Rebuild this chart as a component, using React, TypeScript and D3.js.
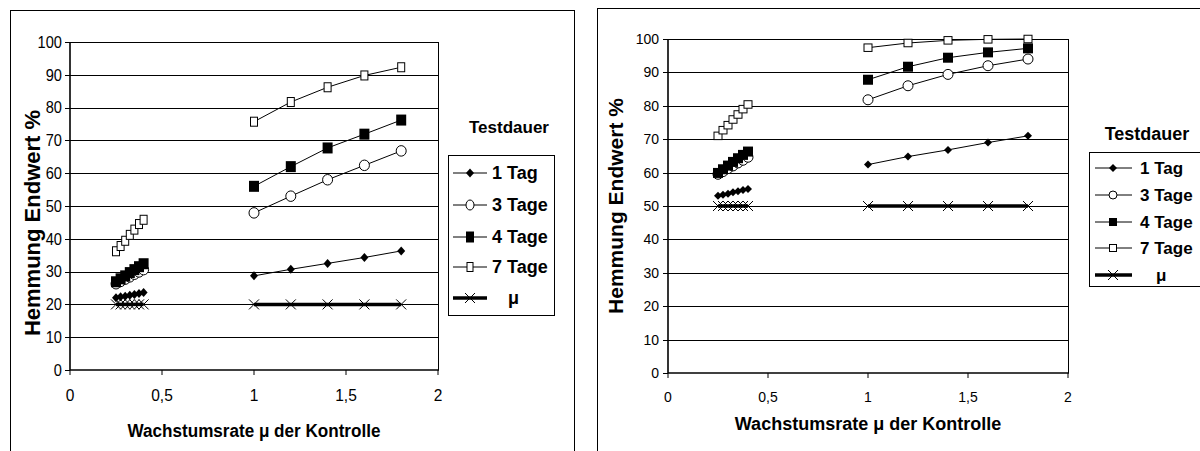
import React from "react";
import * as d3 from "d3";

// ---------- data ----------
const xTicks = [0, 0.5, 1, 1.5, 2];
const xTickLabels = ["0", "0,5", "1", "1,5", "2"];
const yTicks = [0, 10, 20, 30, 40, 50, 60, 70, 80, 90, 100];
const seriesNames = ["1 Tag", "3 Tage", "4 Tage", "7 Tage", "μ"];
const legendTitle = "Testdauer";
const xTitle = "Wachstumsrate μ der Kontrolle";
const yTitle = "Hemmung Endwert %";

const xLow = [0.25, 0.275, 0.3, 0.325, 0.35, 0.375, 0.4];
const xHigh = [1, 1.2, 1.4, 1.6, 1.8];

const leftTag1Low = [22.0, 22.3, 22.5, 22.8, 23.0, 23.3, 23.6];
const leftTage3Low = [26.3, 27.0, 27.7, 28.4, 29.2, 29.9, 30.6];
const leftTage4Low = [26.9, 27.8, 28.7, 29.7, 30.6, 31.5, 32.4];
const leftTage7Low = [36.2, 37.8, 39.4, 41.2, 42.8, 44.5, 45.8];
const leftMuLow = [20, 20, 20, 20, 20, 20, 20];
const leftTag1High = [28.7, 30.7, 32.5, 34.3, 36.3];
const leftTage3High = [47.9, 53.0, 58.0, 62.4, 66.8];
const leftTage4High = [56.0, 62.0, 67.7, 71.9, 76.2];
const leftTage7High = [75.7, 81.7, 86.2, 89.8, 92.3];
const leftMuHigh = [20, 20, 20, 20, 20];

const rightTag1Low = [53.1, 53.4, 53.7, 54.1, 54.4, 54.8, 55.1];
const rightTage3Low = [59.5, 60.3, 61.2, 62.0, 62.9, 63.7, 64.6];
const rightTage4Low = [59.9, 61.0, 62.1, 63.2, 64.3, 65.3, 66.3];
const rightTage7Low = [71.0, 72.7, 74.2, 75.9, 77.4, 79.0, 80.4];
const rightMuLow = [50, 50, 50, 50, 50, 50, 50];
const rightTag1High = [62.4, 64.8, 66.8, 69.0, 71.0];
const rightTage3High = [81.8, 86.0, 89.4, 92.0, 94.0];
const rightTage4High = [87.8, 91.7, 94.4, 96.0, 97.2];
const rightTage7High = [97.4, 98.8, 99.6, 99.9, 100];
const rightMuHigh = [50, 50, 50, 50, 50];

const markerTypes = ["diamond", "circle", "square", "openSquare", "x"];

const FONT = "'Liberation Sans', Arial, Helvetica, sans-serif";

type Sizes = {
  diamond: [number, number];
  circle: [number, number];
  square: [number, number];
  openSquare: [number, number];
  x: [number, number];
};

function Marker({ type, cx, cy, s }: { type: string; cx: number; cy: number; s: Sizes }) {
  if (type === "diamond") {
    const [w, h] = s.diamond;
    return (
      <path
        d={`M${cx},${cy - h / 2}L${cx + w / 2},${cy}L${cx},${cy + h / 2}L${cx - w / 2},${cy}Z`}
        fill="#000"
      />
    );
  }
  if (type === "circle") {
    const [w, h] = s.circle;
    return <ellipse cx={cx} cy={cy} rx={w / 2} ry={h / 2} fill="#fff" stroke="#000" strokeWidth={1} />;
  }
  if (type === "square") {
    const [w, h] = s.square;
    return <rect x={cx - w / 2} y={cy - h / 2} width={w} height={h} fill="#000" />;
  }
  if (type === "openSquare") {
    const [w, h] = s.openSquare;
    return <rect x={cx - w / 2} y={cy - h / 2} width={w} height={h} fill="#fff" stroke="#000" strokeWidth={1} />;
  }
  const [w, h] = s.x;
  return (
    <path
      d={`M${cx - w / 2},${cy - h / 2}L${cx + w / 2},${cy + h / 2}M${cx - w / 2},${cy + h / 2}L${cx + w / 2},${cy - h / 2}`}
      stroke="#000"
      strokeWidth={1}
      fill="none"
    />
  );
}

type ChartCfg = {
  frame: { x: number; y: number; w: number; h: number };
  plot: { x0: number; x1: number; y0: number; y1: number };
  low: number[][];
  high: number[][];
  sizes: Sizes;
  legendSizes: Sizes;
  yTickFont: number;
  yTickScaleX: number;
  xTickFont: number;
  xTickScaleX: number;
  yLabelRight: number;
  xLabelBaseline: number;
  xTitleFont: number;
  xTitleScaleX: number;
  xTitleBaseline: number;
  yTitleFont: number;
  yTitleX: number;
  yTitleCY: number;
  legendTitleFont: number;
  legendTitleX: number;
  legendTitleBaseline: number;
  legendBox: { x: number; y: number; w: number; h: number };
  legendRows: number[];
  legendLine: [number, number];
  legendMarkerX: number;
  legendTextX: number;
  legendFont: number;
  muTextOffset: number;
};

function Chart({ c }: { c: ChartCfg }) {
  const x = d3.scaleLinear().domain([0, 2]).range([c.plot.x0, c.plot.x1]);
  const y = d3.scaleLinear().domain([0, 100]).range([c.plot.y1, c.plot.y0]);
  const line = d3
    .line<[number, number]>()
    .x((d) => x(d[0]))
    .y((d) => y(d[1]));

  const groups = [
    { xs: xLow, sets: c.low },
    { xs: xHigh, sets: c.high },
  ];

  return (
    <g fontFamily={FONT}>
      <rect x={c.frame.x} y={c.frame.y} width={c.frame.w} height={c.frame.h} fill="#fff" stroke="#000" strokeWidth={1} />
      {yTicks.slice(1).map((t) => (
        <line key={t} x1={c.plot.x0} x2={c.plot.x1} y1={Math.round(y(t)) + 0.5} y2={Math.round(y(t)) + 0.5} stroke="#000" strokeWidth={1} />
      ))}
      <line x1={c.plot.x1 + 0.5} x2={c.plot.x1 + 0.5} y1={y(100)} y2={y(0)} stroke="#000" strokeWidth={1} />
      <line x1={c.plot.x0} x2={c.plot.x0} y1={y(100)} y2={y(0)} stroke="#000" strokeWidth={1.6} />
      <line x1={c.plot.x0} x2={c.plot.x1 + 1} y1={y(0)} y2={y(0)} stroke="#000" strokeWidth={1.6} />
      {yTicks.map((t) => (
        <g key={"yt" + t}>
          <line x1={c.plot.x0 - 5} x2={c.plot.x0} y1={Math.round(y(t)) + 0.5} y2={Math.round(y(t)) + 0.5} stroke="#000" strokeWidth={1} />
          <text
            transform={`translate(${c.yLabelRight},${y(t)}) scale(${c.yTickScaleX},1)`}
            textAnchor="end"
            dominantBaseline="central"
            fontSize={c.yTickFont}
            fill="#000"
          >
            {t}
          </text>
        </g>
      ))}
      {xTicks.map((t, i) => (
        <g key={"xt" + t}>
          <line x1={x(t)} x2={x(t)} y1={y(0)} y2={y(0) + 5} stroke="#000" strokeWidth={1} />
          <text
            transform={`translate(${x(t)},${c.xLabelBaseline}) scale(${c.xTickScaleX},1)`}
            textAnchor="middle"
            fontSize={c.xTickFont}
            fill="#000"
          >
            {xTickLabels[i]}
          </text>
        </g>
      ))}
      <text
        transform={`translate(${(c.plot.x0 + c.plot.x1) / 2},${c.xTitleBaseline}) scale(${c.xTitleScaleX},1)`}
        textAnchor="middle"
        fontSize={c.xTitleFont}
        fontWeight="bold"
        fill="#000"
      >
        {xTitle}
      </text>
      <text
        transform={`translate(${c.yTitleX},${c.yTitleCY}) rotate(-90)`}
        textAnchor="middle"
        dominantBaseline="central"
        fontSize={c.yTitleFont}
        fontWeight="bold"
        fill="#000"
      >
        {yTitle}
      </text>
      {groups.map((g, gi) =>
        g.sets.map((vals, si) => {
          const pts: [number, number][] = g.xs.map((xv, k) => [xv, vals[k]]);
          const isMu = si === 4;
          return (
            <g key={`s${gi}-${si}`}>
              <path d={line(pts) || ""} fill="none" stroke="#000" strokeWidth={isMu ? 3.5 : 1} />
              {pts.map((p, k) => (
                <Marker key={k} type={markerTypes[si]} cx={x(p[0])} cy={y(p[1])} s={c.sizes} />
              ))}
            </g>
          );
        })
      )}
      <text x={c.legendTitleX} y={c.legendTitleBaseline} textAnchor="middle" fontSize={c.legendTitleFont} fontWeight="bold" fill="#000">
        {legendTitle}
      </text>
      <rect x={c.legendBox.x} y={c.legendBox.y} width={c.legendBox.w} height={c.legendBox.h} fill="#fff" stroke="#000" strokeWidth={1} />
      {seriesNames.map((n, i) => {
        const ry = c.legendRows[i];
        const isMu = i === 4;
        return (
          <g key={n}>
            <line x1={c.legendLine[0]} x2={c.legendLine[1]} y1={ry} y2={ry} stroke="#000" strokeWidth={isMu ? 3.5 : 1} />
            <Marker type={markerTypes[i]} cx={c.legendMarkerX} cy={ry} s={c.legendSizes} />
            <text
              x={c.legendTextX + (isMu ? c.muTextOffset : 0)}
              y={ry}
              dominantBaseline="central"
              fontSize={c.legendFont}
              fontWeight="bold"
              fill="#000"
            >
              {n}
            </text>
          </g>
        );
      })}
    </g>
  );
}

const leftCfg: ChartCfg = {
  frame: { x: 10.5, y: 10.5, w: 564, h: 460 },
  plot: { x0: 70, x1: 438, y0: 42, y1: 370 },
  low: [leftTag1Low, leftTage3Low, leftTage4Low, leftTage7Low, leftMuLow],
  high: [leftTag1High, leftTage3High, leftTage4High, leftTage7High, leftMuHigh],
  sizes: { diamond: [8, 9], circle: [10, 10.5], square: [10, 11], openSquare: [7, 9], x: [10, 10] },
  legendSizes: { diamond: [8, 9], circle: [8, 10], square: [8, 11], openSquare: [6, 9], x: [10, 10] },
  yTickFont: 17,
  yTickScaleX: 0.86,
  xTickFont: 16,
  xTickScaleX: 0.97,
  yLabelRight: 62,
  xLabelBaseline: 401,
  xTitleFont: 19,
  xTitleScaleX: 0.9,
  xTitleBaseline: 437,
  yTitleFont: 22,
  yTitleX: 32,
  yTitleCY: 223,
  legendTitleFont: 17,
  legendTitleX: 509,
  legendTitleBaseline: 133,
  legendBox: { x: 448.5, y: 155.5, w: 106, h: 160 },
  legendRows: [173, 205, 237, 267, 298],
  legendLine: [453, 487],
  legendMarkerX: 470,
  legendTextX: 492,
  legendFont: 18,
  muTextOffset: 16,
};

const rightCfg: ChartCfg = {
  frame: { x: 597.5, y: 8.5, w: 640, h: 460 },
  plot: { x0: 668, x1: 1068, y0: 39, y1: 373 },
  low: [rightTag1Low, rightTage3Low, rightTage4Low, rightTage7Low, rightMuLow],
  high: [rightTag1High, rightTage3High, rightTage4High, rightTage7High, rightMuHigh],
  sizes: { diamond: [8, 8], circle: [10, 10], square: [10, 10], openSquare: [8, 7.5], x: [10, 10] },
  legendSizes: { diamond: [8, 8], circle: [8, 8], square: [8, 8], openSquare: [7, 7], x: [10, 10] },
  yTickFont: 14,
  yTickScaleX: 1,
  xTickFont: 14,
  xTickScaleX: 1,
  yLabelRight: 659,
  xLabelBaseline: 402,
  xTitleFont: 18,
  xTitleScaleX: 1,
  xTitleBaseline: 430,
  yTitleFont: 21,
  yTitleX: 615,
  yTitleCY: 206,
  legendTitleFont: 18,
  legendTitleX: 1147,
  legendTitleBaseline: 140,
  legendBox: { x: 1089.5, y: 152.5, w: 130, h: 134 },
  legendRows: [168, 195, 222, 248, 275],
  legendLine: [1095, 1132],
  legendMarkerX: 1113,
  legendTextX: 1140,
  legendFont: 17,
  muTextOffset: 16,
};

export default function App() {
  return (
    <svg
      width={1200}
      height={451}
      viewBox="0 0 1200 451"
      style={{ position: "absolute", left: 0, top: 0, display: "block", background: "#fff" }}
    >
      <rect x={0} y={0} width={1200} height={451} fill="#fff" />
      <Chart c={leftCfg} />
      <Chart c={rightCfg} />
    </svg>
  );
}
